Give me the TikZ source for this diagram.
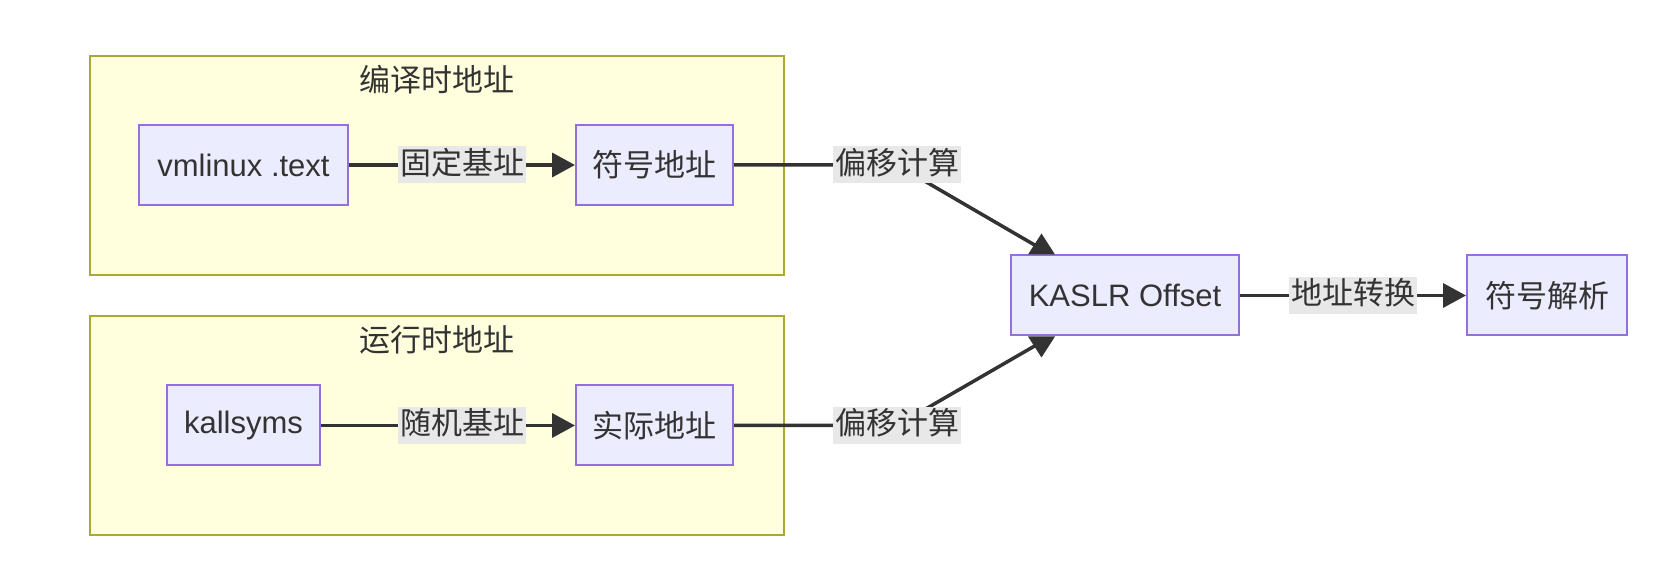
\documentclass[tikz,border=0pt]{standalone}
\usepackage{fontspec}
\setmainfont{Liberation Sans}
\newfontfamily\cjk{Noto Sans CJK SC}
\usetikzlibrary{arrows.meta}
\definecolor{nodefill}{HTML}{ECECFF}
\definecolor{nodeline}{HTML}{9370DB}
\definecolor{clfill}{HTML}{FFFFDE}
\definecolor{clline}{HTML}{AAAA33}
\definecolor{edgecol}{HTML}{333333}
\definecolor{labbg}{HTML}{E8E8E8}
\definecolor{txtcol}{HTML}{333333}
\begin{document}
\begin{tikzpicture}[x=0.5pt,y=-0.5pt,
  every node/.style={font=\fontsize{15.5pt}{18pt}\selectfont, text=txtcol},
  box/.style={draw=nodeline, fill=nodefill, line width=1pt, inner sep=0pt, minimum height=40pt},
  cjkbox/.style={box, font=\fontsize{15.5pt}{18pt}\selectfont\cjk},
  cluster/.style={draw=clline, fill=clfill, line width=1pt, inner sep=0pt, minimum width=347pt, minimum height=109.5pt},
  cltitle/.style={inner sep=0pt, font=\fontsize{15.5pt}{18pt}\selectfont\cjk},
  elabel/.style={fill=labbg, inner xsep=1pt, inner ysep=0.5pt, text height=13.5pt, text depth=4pt, font=\fontsize{15.5pt}{18pt}\selectfont\cjk},
  flow/.style={draw=edgecol, line width=1.75pt, -{Triangle[length=11.5pt,width=12pt]}},
  plainline/.style={draw=edgecol, line width=1.75pt},
  headtri/.style={fill=edgecol},
]
\useasboundingbox (0,0) rectangle (1678,588);
% clusters
\node[cluster] (c1) at (437,165.5) {};
\node[cluster] (c2) at (437,425.5) {};
\node[cltitle] (t1) at (437,80) {编译时地址};
\node[cltitle] (t2) at (437,340) {运行时地址};
% nodes
\node[box, minimum width=104.5pt] (vm) at (243.5,165) {vmlinux .text};
\node[cjkbox, minimum width=78.5pt] (sym) at (654.5,165) {符号地址};
\node[box, minimum width=76.5pt] (ks) at (243.5,425.5) {kallsyms};
\node[cjkbox, minimum width=78.5pt] (real) at (654.5,425.5) {实际地址};
\node[box, minimum width=114pt, minimum height=40pt] (kaslr) at (1125,295.5) {KASLR Offset};
\node[cjkbox, minimum width=80pt, minimum height=40pt] (res) at (1547,295.5) {符号解析};
% bend points
\coordinate (b1) at (897,165);
\coordinate (b2) at (897,425.5);
\coordinate (k1) at (1041.5,249);
\coordinate (k2) at (1041.5,342);
% edges
\path[flow] (vm) -- (sym);
\path[flow] (ks) -- (real);
\path[plainline] (sym.east) -- (b1) -- (k1);
\path[plainline] (real.east) -- (b2) -- (k2);
\fill[headtri] ([xshift=-6.75pt]kaslr.north -| k1) -- ([xshift=6.75pt]kaslr.north -| k1) -- ([yshift=10.5pt]kaslr.north -| k1) -- cycle;
\fill[headtri] ([xshift=-6.75pt]kaslr.south -| k2) -- ([xshift=6.75pt]kaslr.south -| k2) -- ([yshift=-10.5pt]kaslr.south -| k2) -- cycle;
\path[flow] (kaslr) -- (res);
% labels
\node[elabel] (l1) at (462,165) {固定基址};
\node[elabel] (l2) at (462,425.5) {随机基址};
\node[elabel] (l3) at (b1) {偏移计算};
\node[elabel] (l4) at (b2) {偏移计算};
\node[elabel] (l5) at (1353,295.5) {地址转换};
\end{tikzpicture}
\end{document}
